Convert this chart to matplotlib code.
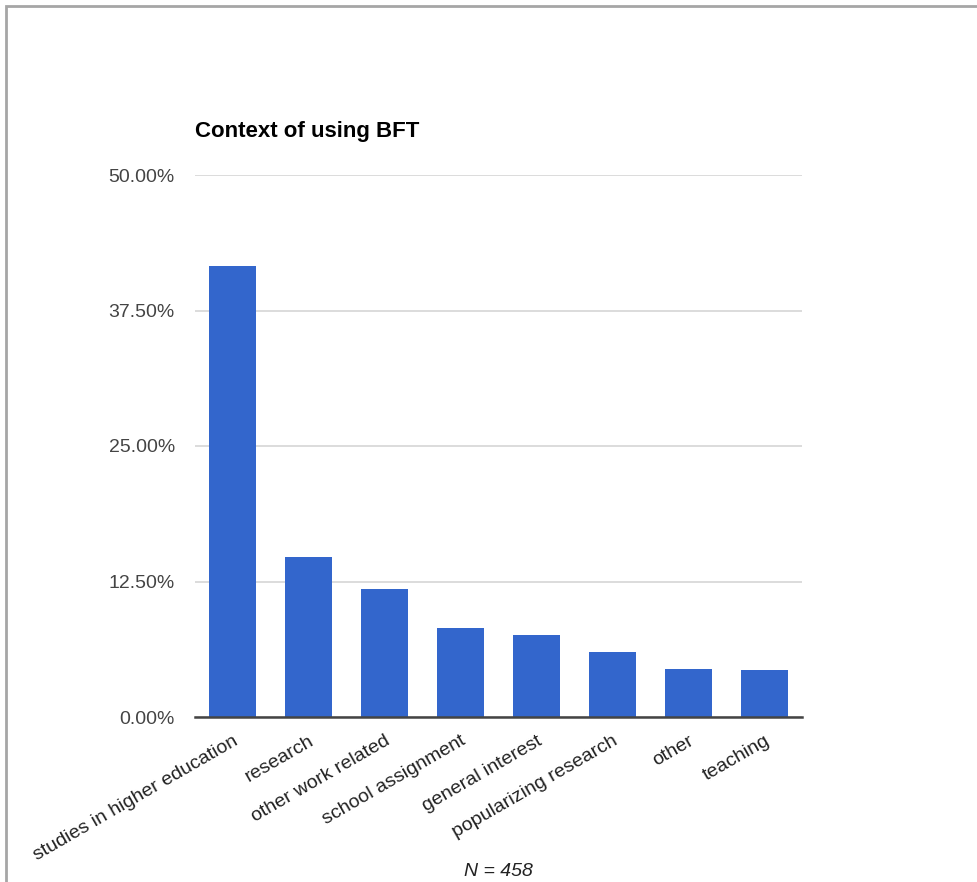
import matplotlib
matplotlib.use("Agg")
import matplotlib.pyplot as plt
from matplotlib.patches import Rectangle
from matplotlib.ticker import FuncFormatter

categories = ["studies in higher education", "research", "other work related",
              "school assignment", "general interest", "popularizing research",
              "other", "teaching"]
values = [41.6, 14.8, 11.85, 8.25, 7.6, 6.0, 4.45, 4.3]
yticks = [0, 12.5, 25, 37.5, 50]
title = "Context of using BFT"
xlabel = "N = 458"

plt.rcParams['font.family'] = ['Liberation Sans', 'DejaVu Sans']

W, H = 977, 882
fig = plt.figure(figsize=(W / 100, H / 100), dpi=100)
ax = fig.add_axes([195 / W, 1 - 717 / H, (802 - 195) / W, (717 - 175) / H])

x = range(len(categories))
ax.bar(x, values, width=0.62, color="#3366cc", zorder=3)
ax.set_xlim(-0.5, len(categories) - 0.5)
ax.set_ylim(0, 50)
ax.set_yticks(yticks)
ax.yaxis.set_major_formatter(FuncFormatter(lambda v, p: f"{v:.2f}%"))
ax.grid(axis="y", color="#d9d9d9", linewidth=1.3, zorder=0)
ax.set_axisbelow(True)
for s in ["top", "right", "left"]:
    ax.spines[s].set_visible(False)
ax.spines["bottom"].set_color("#444444")
ax.spines["bottom"].set_linewidth(1.8)
ax.spines["bottom"].set_zorder(4)
ax.tick_params(axis="y", length=0, pad=14.5, labelsize=14, labelcolor="#444444")
ax.tick_params(axis="x", length=0, pad=11, labelsize=14, labelcolor="#222222")
ax.set_xticks(list(x))
ax.set_xticklabels(categories, rotation=30, ha="right", rotation_mode="anchor")

fig.text(195 / W, 1 - 131 / H, title, fontsize=16, fontweight="bold",
         ha="left", va="center", color="#000000")
fig.text(498 / W, 1 - 871 / H, xlabel, fontsize=14, style="italic",
         ha="center", va="center", color="#222222")

# outer frame (top and left edges visible)
fig.patches.append(Rectangle((6 / W, -0.05), 1.2, 1 - 6 / H + 0.05,
                             transform=fig.transFigure, fill=False,
                             edgecolor="#a6a6a6", linewidth=2))

fig.savefig("out.png", dpi=100)
